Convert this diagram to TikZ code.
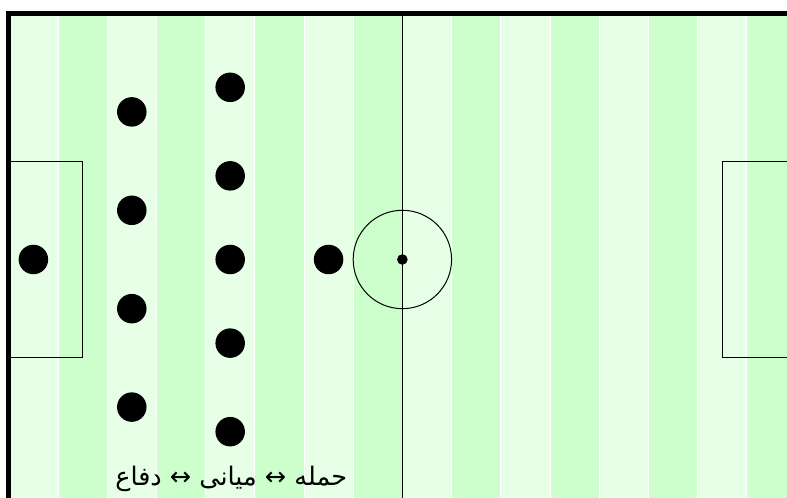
\documentclass[tikz,border=0pt]{standalone}
\usepackage{fontspec}
\newfontfamily\arabicfont[Script=Arabic]{DejaVu Sans}
\TeXXeTstate=1
\definecolor{stripeA}{HTML}{E6FFE6}
\definecolor{stripeB}{HTML}{CCFFCC}
\begin{document}
\begin{tikzpicture}[x=0.984pt,y=-0.984pt,
  player/.style={circle,fill=black,minimum size=29.5pt,inner sep=0pt},
  pitchline/.style={line width=1pt,draw=black},
  spot/.style={circle,fill=black,minimum size=10.6pt,inner sep=0pt},
  centrecircle/.style={circle,line width=1pt,draw=black,minimum size=98.4pt,inner sep=0pt},
  caption/.style={font=\arabicfont\fontsize{25.5}{27}\selectfont,inner sep=0pt}]
\useasboundingbox (-8.94,-13.72) rectangle (790.9,491.4);
\fill[white] (-8.94,-13.72) rectangle (790.9,491.4);
% stripes
\foreach \i in {0,2,...,14} \fill[stripeA] ({\i*50},0) rectangle ({(\i+1)*50},500);
\foreach \i in {1,3,...,15} \fill[stripeB] ({\i*50},0) rectangle ({(\i+1)*50},500);
\foreach \i in {1,...,15} \draw[white,line width=0.8pt] ({\i*50},0) -- ({\i*50},500);
% markings
\coordinate (ctop) at (400,0);
\coordinate (cbot) at (400,500);
\draw[pitchline] (ctop) -- (cbot);
\node[centrecircle] (cc) at (400,250) {};
\node[spot] (cs) at (400,250) {};
\draw[pitchline] (0,150) rectangle (75,350);
\draw[pitchline] (725,150) rectangle (800,350);
\draw[line width=5pt] (0,0) rectangle (800,500);
% players
\node[player] (gk) at (25,250) {};
\node[player] (d1) at (125,100) {};
\node[player] (d2) at (125,200) {};
\node[player] (d3) at (125,300) {};
\node[player] (d4) at (125,400) {};
\node[player] (m1) at (225,75) {};
\node[player] (m2) at (225,165) {};
\node[player] (m3) at (225,250) {};
\node[player] (m4) at (225,335) {};
\node[player] (m5) at (225,425) {};
\node[player] (fw) at (325,250) {};
% caption
\node[caption] (lbl) at (226,473.5) {\beginR حمله ↔ میانی ↔ دفاع\endR};
\end{tikzpicture}
\end{document}
